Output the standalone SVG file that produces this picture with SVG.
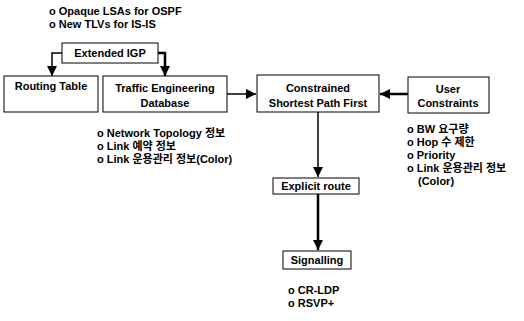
<svg xmlns="http://www.w3.org/2000/svg" width="524" height="321" viewBox="0 0 524 321">
<style>
text{font-family:"Liberation Sans","Noto Sans CJK KR",Arial,sans-serif;font-size:11px;font-weight:bold;fill:#000}
.c{text-anchor:middle}
.box{fill:#fff;stroke:#000;stroke-width:1}
.ln{fill:none;stroke:#000;stroke-width:1.5}
.thk{fill:none;stroke:#000;stroke-width:2.5}
</style>
<defs>
<marker id="ah" viewBox="0 0 10 10" refX="10" refY="5" markerWidth="10" markerHeight="10" markerUnits="userSpaceOnUse" orient="auto">
<path d="M0,0 L10,5 L0,10 Z" fill="#000"/>
</marker>
</defs>
<rect width="524" height="321" fill="#fff"/>
<g id="igp-notes">
<text x="49" y="15">o Opaque LSAs for OSPF</text>
<text x="49" y="28">o New TLVs for IS-IS</text>
</g>
<g id="connectors">
<polyline class="ln" points="62,53 52,53 52,76" marker-end="url(#ah)"/>
<polyline class="thk" points="158,53 165,53 165,76" marker-end="url(#ah)"/>
<line class="ln" x1="227" y1="94" x2="256" y2="94" marker-end="url(#ah)"/>
<line class="thk" x1="408" y1="94" x2="380" y2="94" marker-end="url(#ah)"/>
<line class="ln" x1="318" y1="112" x2="318" y2="177" marker-end="url(#ah)"/>
<line class="thk" x1="318" y1="194" x2="318" y2="250" marker-end="url(#ah)"/>
</g>
<g id="extended-igp">
<rect class="box" x="62" y="43" width="96" height="20"/>
<text class="c" x="110" y="57">Extended IGP</text>
</g>
<g id="routing-table">
<rect class="box" x="4" y="76" width="94" height="36"/>
<text class="c" x="51" y="90">Routing Table</text>
</g>
<g id="ted">
<rect class="box" x="103" y="76" width="124" height="36"/>
<text class="c" x="165" y="92">Traffic Engineering</text>
<text class="c" x="165" y="107">Database</text>
</g>
<g id="cspf">
<rect class="box" x="257" y="75" width="122" height="37"/>
<text class="c" x="318" y="92">Constrained</text>
<text class="c" x="318" y="107">Shortest Path First</text>
</g>
<g id="user-constraints">
<rect class="box" x="408" y="77" width="81" height="36"/>
<text class="c" x="448" y="93">User</text>
<text class="c" x="448" y="107">Constraints</text>
</g>
<g id="ted-notes">
<text x="97" y="137">o Network Topology 정보</text>
<text x="97" y="150">o Link 예약 정보</text>
<text x="97" y="163">o Link 운용관리 정보(Color)</text>
</g>
<g id="user-notes">
<text x="407" y="133">o BW 요구량</text>
<text x="407" y="146">o Hop 수 제한</text>
<text x="407" y="159">o Priority</text>
<text x="407" y="172">o Link 운용관리 정보</text>
<text x="418" y="185">(Color)</text>
</g>
<g id="explicit-route">
<rect class="box" x="273" y="178" width="86" height="16"/>
<text class="c" x="316" y="190">Explicit route</text>
</g>
<g id="signalling">
<rect class="box" x="283" y="251" width="68" height="18"/>
<text class="c" x="317" y="264">Signalling</text>
</g>
<g id="signalling-notes">
<text x="288" y="294">o CR-LDP</text>
<text x="288" y="307">o RSVP+</text>
</g>
</svg>
